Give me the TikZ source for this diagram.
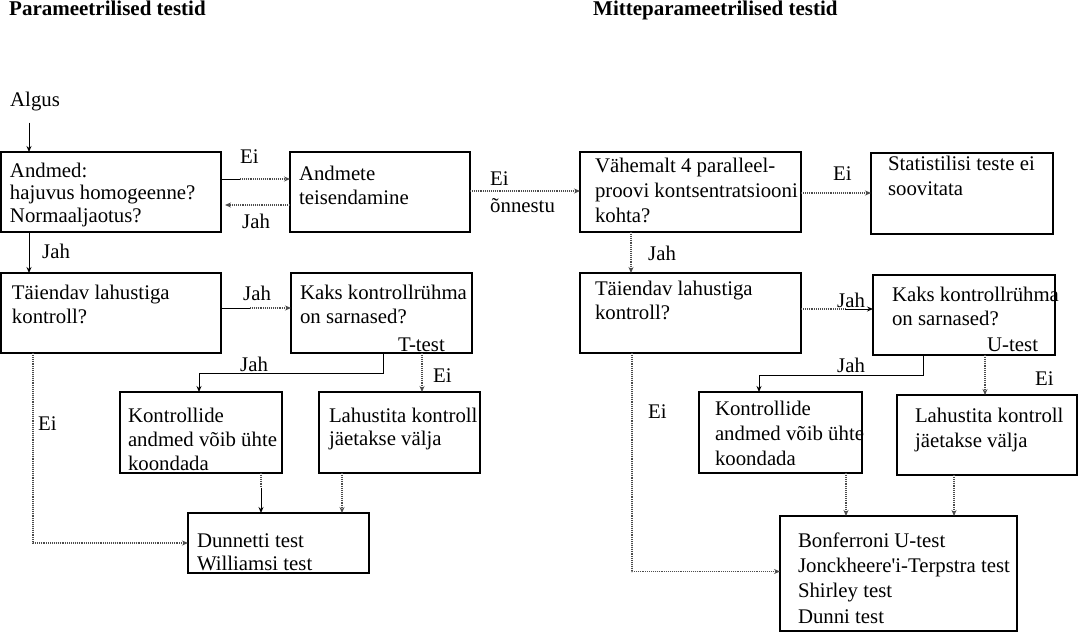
\documentclass[tikz,border=0pt]{standalone}
\usepackage{fontspec}
\setmainfont{Liberation Serif}
\usetikzlibrary{arrows.meta,calc}
\newcommand{\bt}[6]{\parbox[c][#2pt][t]{#1pt}{\fontsize{20.8}{#5}\selectfont\raggedright\leftskip=#3pt\relax\rightskip=-300pt plus 1fil\relax\rule{0pt}{#4pt}#6}}
\newcommand{\sq}{{\addfontfeatures{Ligatures=TeXOff}'}}
\tikzset{
 box/.style={draw, line width=1.5pt, inner sep=0pt, outer sep=0pt, anchor=north west},
 lbl/.style={inner sep=0pt, anchor=base west, font=\fontsize{20.8}{24}\selectfont},
 ttl/.style={inner sep=0pt, anchor=base west, font=\fontsize{21}{24}\selectfont\bfseries},
 conn/.style={line width=1pt, -{Stealth[length=6pt,width=5pt]}},
 sol/.style={conn},
 dot/.style={conn, line width=1.4pt, draw=black!70, dash pattern=on 1pt off 0.9pt},
 plain/.style={line width=1pt},
 plaindot/.style={line width=1.4pt, draw=black!70, dash pattern=on 1pt off 0.9pt},
}
\begin{document}
\begin{tikzpicture}[x=1pt,y=-1pt]
\useasboundingbox (0,0) rectangle (1078,632);
% titles
\node[ttl] (t1) at (9,15) {Parameetrilised testid};
\node[ttl] (t2) at (593,15) {Mitteparameetrilised testid};
\node[lbl] (algus) at (10,106) {Algus};
% boxes
\node[box] (b1) at (1,152) {\bt{220}{80}{9}{25}{22.5}{Andmed:\\hajuvus homogeenne?\\Normaaljaotus?}};
\node[box] (b2) at (290,152) {\bt{180}{80}{9}{28}{24.5}{Andmete\\teisendamine}};
\node[box] (b3) at (580,152) {\bt{221}{80}{15}{20}{25}{Vähemalt 4 paralleel-\\proovi kontsentratsiooni\\kohta?}};
\node[box] (b4) at (871,153) {\bt{182}{81}{17}{17}{25}{Statistilisi teste ei\\soovitata}};
\node[box] (b5) at (1,273) {\bt{220}{80}{11}{26}{24}{Täiendav lahustiga\\kontroll?}};
\node[box] (b6) at (291,273) {\bt{181}{80}{9}{26}{24}{Kaks kontrollrühma\\on sarnased?}};
\node[box] (b7) at (120,392) {\bt{162}{81}{8}{30}{24}{Kontrollide\\andmed võib ühte\\koondada}};
\node[box] (b8) at (319,392) {\bt{161}{81}{10}{30}{23.5}{Lahustita kontroll\\jäetakse välja}};
\node[box] (b9) at (188,513) {\bt{181}{60}{9}{34}{23.5}{Dunnetti test\\Williamsi test}};
\node[box] (b10) at (580,273) {\bt{221}{80}{15}{22}{24}{Täiendav lahustiga\\kontroll?}};
\node[box] (b11) at (873,275) {\bt{182}{80}{19}{26}{24}{Kaks kontrollrühma\\on sarnased?}};
\node[box] (b12) at (699,392) {\bt{163}{81}{16}{23}{25}{Kontrollide\\andmed võib ühte\\koondada}};
\node[box] (b13) at (897,395) {\bt{180}{80}{18}{27}{25}{Lahustita kontroll\\jäetakse välja}};
\node[box] (b14) at (780,516) {\bt{237}{115}{18}{31}{25.4}{Bonferroni U-test\\Jonckheere\sq i-Terpstra test\\Shirley test\\Dunni test}};
% labels
\node[lbl] (ttest) at (398,351) {T-test};
\node[lbl] (utest) at (987,351) {U-test};
\node[lbl] (l1) at (240,163) {Ei};
\node[lbl] (l2) at (242,228) {Jah};
\node[lbl] (l3) at (490,185) {Ei};
\node[lbl] (l4) at (490,212) {õnnestu};
\node[lbl] (l5) at (833,180) {Ei};
\node[lbl] (l6) at (42,258) {Jah};
\node[lbl] (l7) at (648,260) {Jah};
\node[lbl] (l8) at (243,300) {Jah};
\node[lbl] (l9) at (240,371) {Jah};
\node[lbl] (l10) at (433,382) {Ei};
\node[lbl] (l11) at (38,430) {Ei};
\node[lbl] (l12) at (837,307) {Jah};
\node[lbl] (l13) at (837,372) {Jah};
\node[lbl] (l14) at (1035,385) {Ei};
\node[lbl] (l15) at (648,418) {Ei};
% connectors
\coordinate (c1x) at ([xshift=28pt]b1.north west);
\coordinate (a1) at (algus.south -| c1x);
\draw[sol] ([yshift=-12pt]a1) -- (c1x);
\draw[plain] ([yshift=13pt]b1.east) -- ++(19pt,0) coordinate (m1);
\draw[dot] (m1) -- (m1 -| b2.west);
\draw[dot, shorten >=4pt] ([yshift=-13pt]b2.west) -- ([yshift=-13pt]b2.west -| b1.east);
\draw[dot] ([yshift=1pt]b2.east) -- ([yshift=1pt]b3.west);
\draw[dot] ([yshift=-1pt]b3.east) -- ([yshift=-1pt]b3.east -| b4.west);
\draw[sol] ([xshift=28pt]b1.south west) -- ([xshift=28pt]b5.north west);
\draw[plain] ([yshift=5pt]b5.east) -- ++(29pt,0) coordinate (m2);
\draw[dot] (m2) -- (m2 -| b6.west);
\draw[sol] ([xshift=92pt]b6.south west) -- ++(0,-20pt) -| ([xshift=79pt]b7.north west);
\draw[dot] ([xshift=131pt]b6.south west) -- ([xshift=131pt]b6.south west |- b8.north);
\draw[plaindot] ([xshift=141pt]b7.south west) -- ++(0,-15pt) coordinate (m3);
\draw[sol] (m3) -- (m3 |- b9.north);
\draw[dot] ([xshift=23pt]b8.south west) -- ([xshift=23pt]b8.south west |- b9.north);
\draw[dot] ([xshift=32pt]b5.south west) |- (b9.west);
\draw[dot] ([xshift=51pt]b3.south west) -- ([xshift=51pt]b3.south west |- b10.north);
\draw[plaindot] ([yshift=4pt]b10.east) -- ++(44pt,0) coordinate (m4);
\draw[sol] (m4) -- (m4 -| b11.west);
\draw[sol] ([xshift=50pt]b11.south west) -- ++(0,-20pt) -| ([xshift=60pt]b12.north west);
\draw[dot] ([xshift=112pt]b11.south west) -- ([xshift=112pt]b11.south west |- b13.north);
\draw[dot] ([xshift=147pt]b12.south west) -- ([xshift=147pt]b12.south west |- b14.north);
\draw[dot] ([xshift=57pt]b13.south west) -- ([xshift=57pt]b13.south west |- b14.north);
\draw[dot] ([xshift=52pt]b10.south west) |- ([yshift=2pt]b14.west);
\end{tikzpicture}
\end{document}
